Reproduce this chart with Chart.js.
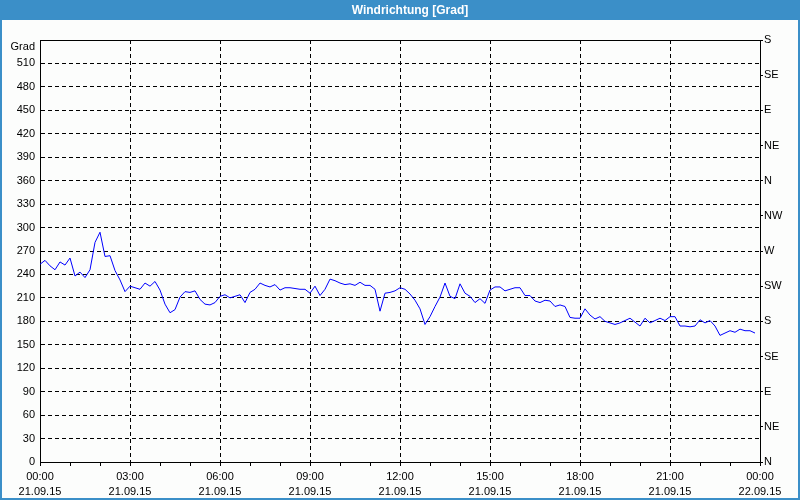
<!DOCTYPE html>
<html><head><meta charset="utf-8">
<script src="https://cdn.jsdelivr.net/npm/chart.js@4"></script>
<style>html,body{margin:0;padding:0;background:#fff}#wrap{width:800px;height:500px;position:relative}</style>
</head><body><div id="wrap"><canvas id="c" width="800" height="500"></canvas></div>
<script>
const chartTitle = 'Windrichtung [Grad]';
const unitLabel = 'Grad';
const times = [
'00:00','00:10','00:20','00:30','00:40','00:50','01:00','01:10','01:20','01:30','01:40','01:50',
'02:00','02:10','02:20','02:30','02:40','02:50','03:00','03:10','03:20','03:30','03:40','03:50',
'04:00','04:10','04:20','04:30','04:40','04:50','05:00','05:10','05:20','05:30','05:40','05:50',
'06:00','06:10','06:20','06:30','06:40','06:50','07:00','07:10','07:20','07:30','07:40','07:50',
'08:00','08:10','08:20','08:30','08:40','08:50','09:00','09:10','09:20','09:30','09:40','09:50',
'10:00','10:10','10:20','10:30','10:40','10:50','11:00','11:10','11:20','11:30','11:40','11:50',
'12:00','12:10','12:20','12:30','12:40','12:50','13:00','13:10','13:20','13:30','13:40','13:50',
'14:00','14:10','14:20','14:30','14:40','14:50','15:00','15:10','15:20','15:30','15:40','15:50',
'16:00','16:10','16:20','16:30','16:40','16:50','17:00','17:10','17:20','17:30','17:40','17:50',
'18:00','18:10','18:20','18:30','18:40','18:50','19:00','19:10','19:20','19:30','19:40','19:50',
'20:00','20:10','20:20','20:30','20:40','20:50','21:00','21:10','21:20','21:30','21:40','21:50',
'22:00','22:10','22:20','22:30','22:40','22:50','23:00','23:10','23:20','23:30','23:40','23:50'];
const directions = [
253,258,251,246,256,252,261,238,243,236,246,281,
294,263,264,245,233,218,225,223,221,229,225,231,
220,202,191,195,211,218,217,219,208,202,201,204,
212,214,210,212,214,204,217,221,229,226,224,227,
220,223,223,222,221,221,216,225,213,221,234,232,
229,227,228,226,230,226,226,221,193,216,217,219,
223,221,215,207,196,176,186,199,211,229,212,209,
228,216,212,204,209,203,220,224,224,219,221,223,
223,213,213,206,204,207,206,199,201,199,185,184,
184,196,188,183,186,180,178,176,178,181,184,179,
174,184,178,181,184,181,186,186,174,174,173,174,
182,178,181,174,162,165,168,166,170,168,168,165];
const xTickTimes = ['00:00','03:00','06:00','09:00','12:00','15:00','18:00','21:00','00:00'];
const xTickDates = ['21.09.15','21.09.15','21.09.15','21.09.15','21.09.15','21.09.15','21.09.15','21.09.15','22.09.15'];
const compassLabels = ['N','NE','E','SE','S','SW','W','NW','N','NE','E','SE','S'];

const FONT = {family: "'Liberation Sans', Arial, sans-serif", size: 11};
const toMin = t => { const p = t.split(':'); return (+p[0]) * 60 + (+p[1]); };

const framePlugin = {
  id: 'frame',
  beforeDraw(chart) {
    const ctx = chart.ctx;
    ctx.save();
    ctx.fillStyle = '#fcfdfc';
    ctx.fillRect(0, 0, chart.width, chart.height);
    ctx.fillStyle = '#3b8fc8';
    ctx.fillRect(0, 0, chart.width, 20);
    ctx.fillRect(0, 0, 2, chart.height);
    ctx.fillRect(chart.width - 2, 0, 2, chart.height);
    ctx.fillRect(0, chart.height - 2, chart.width, 2);
    ctx.fillStyle = '#ffffff';
    ctx.font = "bold 12px 'Liberation Sans', Arial, sans-serif";
    ctx.textAlign = 'center';
    ctx.textBaseline = 'middle';
    ctx.fillText(chartTitle, 410, 10.5);
    ctx.restore();
  }
};

new Chart(document.getElementById('c'), {
  type: 'line',
  data: {
    datasets: [{
      data: times.map((t, i) => ({x: toMin(t), y: directions[i]})),
      xAxisID: 'x', yAxisID: 'y',
      borderColor: '#0000ff', borderWidth: 1, pointRadius: 0, fill: false, tension: 0
    }]
  },
  options: {
    responsive: false, animation: false, devicePixelRatio: 1,
    layout: {padding: 0},
    plugins: {legend: {display: false}, tooltip: {enabled: false}, title: {display: false}},
    scales: {
      x: {
        type: 'linear', position: 'bottom', min: 0, max: 1440,
        afterFit: s => { s.height = 38; },
        ticks: {
          stepSize: 60, autoSkip: false, maxRotation: 0, minRotation: 0, padding: 3,
          color: '#000', font: {...FONT, lineHeight: 1.4},
          callback: v => (v % 180 === 0) ? [xTickTimes[v / 180], xTickDates[v / 180]] : ''
        },
        grid: {
          color: c => (c.tick && c.tick.value % 180 === 0) ? '#000' : 'rgba(0,0,0,0)',
          tickColor: '#000', tickLength: 4, lineWidth: 1, tickBorderDash: []
        },
        border: {color: '#000', width: 1, dash: [4, 3]}
      },
      xTop: {
        type: 'linear', position: 'top', min: 0, max: 1440,
        afterFit: s => { s.height = 40; },
        ticks: {display: false},
        grid: {display: false},
        border: {display: true, color: '#000', width: 1}
      },
      y: {
        position: 'left', min: 0, max: 540,
        afterFit: s => { s.width = 40; },
        ticks: {
          stepSize: 30, padding: 5, autoSkip: false, color: '#000', font: FONT,
          callback: v => v === 540 ? ['', unitLabel] : String(v)
        },
        grid: {color: '#000', drawTicks: false, lineWidth: 1},
        border: {color: '#000', width: 1, dash: [4, 3]}
      },
      y2: {
        position: 'right', min: 0, max: 540,
        afterFit: s => { s.width = 40; },
        ticks: {
          stepSize: 45, padding: 1, autoSkip: false, color: '#000', font: FONT,
          callback: v => compassLabels[Math.round(v / 45)]
        },
        grid: {drawOnChartArea: false, tickColor: '#000', tickLength: 3},
        border: {color: '#000', width: 1}
      }
    }
  },
  plugins: [framePlugin]
});
</script>
</body></html>
